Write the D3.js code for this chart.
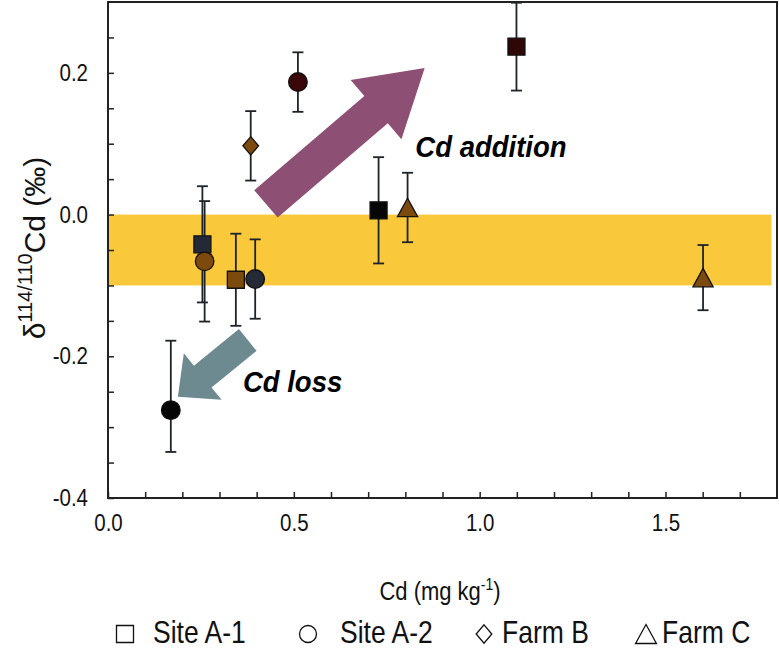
<!DOCTYPE html>
<html><head><meta charset="utf-8">
<script src="https://cdn.jsdelivr.net/npm/d3@7"></script>
<style>body{margin:0;background:#fff}svg{display:block}</style>
</head><body><svg id="c" width="779" height="664"></svg>
<script>
// ---------- data ----------
const seriesNames = ["Site A-1", "Site A-2", "Farm B", "Farm C"];

// Site A-1 (squares)
const siteA1X = [0.254, 0.344, 0.728, 1.099];
const siteA1Y = [-0.042, -0.092, 0.006, 0.237];
const siteA1ErrLo = [0.082, 0.065, 0.075, 0.062];
const siteA1ErrHi = [0.082, 0.065, 0.075, 0.062];
const siteA1Fill = ["#232a36", "#7b4a0c", "#060606", "#2e0707"];

// Site A-2 (circles)
const siteA2X = [0.169, 0.260, 0.396, 0.511];
const siteA2Y = [-0.276, -0.066, -0.091, 0.187];
const siteA2ErrLo = [0.059, 0.085, 0.056, 0.042];
const siteA2ErrHi = [0.098, 0.085, 0.056, 0.042];
const siteA2Fill = ["#050505", "#7b4a0c", "#252b36", "#3a0808"];

// Farm B (diamond)
const farmBX = [0.384];
const farmBY = [0.097];
const farmBErrLo = [0.049];
const farmBErrHi = [0.049];
const farmBFill = ["#7d4b0d"];

// Farm C (triangles)
const farmCX = [0.806, 1.601];
const farmCY = [0.010, -0.089];
const farmCErrLo = [0.049, 0.046];
const farmCErrHi = [0.049, 0.046];
const farmCFill = ["#7b4a0c", "#7b4a0c"];

// background band (natural range)
const bandX = [0, 1.785];
const bandY = [-0.1, 0.0];

// axis ticks
const xTickValues = [0,0.1,0.2,0.3,0.4,0.5,0.6,0.7,0.8,0.9,1.0,1.1,1.2,1.3,1.4,1.5,1.6,1.7];
const xTickLabels = [0, 0.5, 1.0, 1.5];
const yTickValues = [-0.4,-0.35,-0.3,-0.25,-0.2,-0.15,-0.1,-0.05,0,0.05,0.1,0.15,0.2,0.25];
const yTickLabels = [-0.4, -0.2, 0.0, 0.2];

// annotation arrows [x, y] in data units
const arrowTails = [[0.425, 0.015], [0.376, -0.177]];
const arrowTips  = [[0.852, 0.207], [0.188, -0.257]];
const arrowTexts = ["Cd addition", "Cd loss"];
const arrowTextPos = [[0.827, 0.081], [0.363, -0.25]];

// ---------- chart ----------
const svg = d3.select("#c");
const L = 108, R = 777, T = 2, B = 498;
const x = d3.scaleLinear().domain([0, 1.8]).range([L, R]);
const y = d3.scaleLinear().domain([-0.4, 0.3]).range([B, T]);
const FONT = "Arial, 'Liberation Sans', sans-serif";
const K = 1.15; // vertical stretch of the lettering in the original

// band
svg.append("rect")
  .attr("x", x(bandX[0])).attr("width", x(bandX[1]) - x(bandX[0]))
  .attr("y", y(bandY[1])).attr("height", y(bandY[0]) - y(bandY[1]))
  .attr("fill", "#f9c93b");

// axes
const fmt = d3.format(".1f");
const xAxis = d3.axisBottom(x).tickValues(xTickValues).tickSizeInner(-6).tickSizeOuter(0).tickPadding(14)
  .tickFormat(d => xTickLabels.some(v => Math.abs(v - d) < 1e-9) ? fmt(d) : "");
const yAxis = d3.axisLeft(y).tickValues(yTickValues).tickSizeInner(-6).tickSizeOuter(0).tickPadding(20)
  .tickFormat(d => yTickLabels.some(v => Math.abs(v - d) < 1e-9) ? fmt(d).replace("−", "-") : "");

const gx = svg.append("g").attr("transform", `translate(0,${B})`).call(xAxis);
const gy = svg.append("g").attr("transform", `translate(${L},0)`).call(yAxis);
[gx, gy].forEach(g => {
  g.select(".domain").remove();
  g.selectAll(".tick line").attr("stroke", "#222").attr("stroke-width", 1.5);
  g.selectAll(".tick text").attr("font-family", FONT).attr("font-size", 20.5).attr("fill", "#111")
    .attr("transform", `scale(1,${K})`);
});

// frame
svg.append("rect").attr("x", L).attr("y", T).attr("width", R - L).attr("height", B - T)
  .attr("fill", "none").attr("stroke", "#222").attr("stroke-width", 2);

// arrows
function arrowPath(tail, tip, shaftW, headW, headL) {
  const x0 = x(tail[0]), y0 = y(tail[1]), x1 = x(tip[0]), y1 = y(tip[1]);
  const dx = x1 - x0, dy = y1 - y0, len = Math.hypot(dx, dy);
  const ux = dx / len, uy = dy / len, nx = -uy, ny = ux;
  const bx = x1 - ux * headL, by = y1 - uy * headL;
  const pts = [
    [x0 + nx * shaftW / 2, y0 + ny * shaftW / 2],
    [bx + nx * shaftW / 2, by + ny * shaftW / 2],
    [bx + nx * headW / 2, by + ny * headW / 2],
    [x1, y1],
    [bx - nx * headW / 2, by - ny * headW / 2],
    [bx - nx * shaftW / 2, by - ny * shaftW / 2],
    [x0 - nx * shaftW / 2, y0 - ny * shaftW / 2]
  ];
  return "M" + pts.map(p => p.join(",")).join("L") + "Z";
}
const arrowStyle = [
  {fill: "#8d4f74", shaftW: 36, headW: 78, headL: 64},
  {fill: "#6c8a8f", shaftW: 28, headW: 60, headL: 32}
];
arrowTails.forEach((t, i) => {
  svg.append("path").attr("d", arrowPath(t, arrowTips[i], arrowStyle[i].shaftW, arrowStyle[i].headW, arrowStyle[i].headL))
    .attr("fill", arrowStyle[i].fill);
  svg.append("text").attr("transform", `translate(${x(arrowTextPos[i][0])},${y(arrowTextPos[i][1])}) scale(1,1.05)`)
    .attr("font-family", FONT).attr("font-size", 27.5).attr("font-weight", "bold").attr("font-style", "italic")
    .attr("fill", "#000").text(arrowTexts[i]);
});

// markers
function shapePath(type, s) {
  if (type === "square") return `M${-s},${-s}H${s}V${s}H${-s}Z`;
  if (type === "circle") return `M${-s},0A${s},${s} 0 1,0 ${s},0A${s},${s} 0 1,0 ${-s},0Z`;
  if (type === "diamond") return `M0,${-s * 1.08}L${s * 0.92},0L0,${s * 1.08}L${-s * 0.92},0Z`;
  if (type === "triangle") return `M0,${-s}L${s * 1.1},${s}L${-s * 1.1},${s}Z`;
}
const series = [
  {type: "square", xs: siteA1X, ys: siteA1Y, lo: siteA1ErrLo, hi: siteA1ErrHi, fill: siteA1Fill, s: 8.5},
  {type: "circle", xs: siteA2X, ys: siteA2Y, lo: siteA2ErrLo, hi: siteA2ErrHi, fill: siteA2Fill, s: 9.3},
  {type: "diamond", xs: farmBX, ys: farmBY, lo: farmBErrLo, hi: farmBErrHi, fill: farmBFill, s: 8.5},
  {type: "triangle", xs: farmCX, ys: farmCY, lo: farmCErrLo, hi: farmCErrHi, fill: farmCFill, s: 9.2}
];
const eb = svg.append("g").attr("stroke", "#1c2329").attr("stroke-width", 1.8).attr("fill", "none");
series.forEach(sr => sr.xs.forEach((xv, i) => {
  const cx = x(xv), yTop = Math.max(T, y(sr.ys[i] + sr.hi[i])), yBot = y(sr.ys[i] - sr.lo[i]);
  eb.append("line").attr("x1", cx).attr("x2", cx).attr("y1", yTop).attr("y2", yBot);
  eb.append("line").attr("x1", cx - 5.5).attr("x2", cx + 5.5).attr("y1", yBot).attr("y2", yBot);
  if (y(sr.ys[i] + sr.hi[i]) > T) eb.append("line").attr("x1", cx - 5.5).attr("x2", cx + 5.5).attr("y1", yTop).attr("y2", yTop);
}));
series.forEach(sr => sr.xs.forEach((xv, i) => {
  svg.append("path").attr("d", shapePath(sr.type, sr.s))
    .attr("transform", `translate(${x(xv)},${y(sr.ys[i])})`)
    .attr("fill", sr.fill[i]).attr("stroke", "#111").attr("stroke-width", 1.3);
}));

// axis titles
const xt = svg.append("text").attr("transform", `translate(440,600) scale(1,${K})`).attr("text-anchor", "middle")
  .attr("font-family", FONT).attr("font-size", 22).attr("fill", "#111");
xt.append("tspan").text("Cd (mg kg");
xt.append("tspan").attr("font-size", 14).attr("dy", -9).text("-1");
xt.append("tspan").attr("dy", 9).text(")");

const yt = svg.append("text").attr("transform", `translate(45,248) rotate(-90)`).attr("text-anchor", "middle")
  .attr("font-family", FONT).attr("font-size", 30).attr("fill", "#111");
yt.append("tspan").text("δ");
yt.append("tspan").attr("font-size", 20).attr("dy", -13).text("114/110");
yt.append("tspan").attr("dy", 13).text("Cd (‰)");

// legend
const legX = [125, 308, 484, 646];
const legTextX = [153, 340, 502, 662];
const legY = 634;
const legTypes = ["square", "circle", "diamond", "triangle"];
const legSize = [8.5, 8.5, 8.5, 9.5];
seriesNames.forEach((n, i) => {
  svg.append("path").attr("d", shapePath(legTypes[i], legSize[i]))
    .attr("transform", `translate(${legX[i]},${legY})`)
    .attr("fill", "none").attr("stroke", "#111").attr("stroke-width", 1.3);
  svg.append("text").attr("transform", `translate(${legTextX[i]},${legY + 9}) scale(1,${K})`)
    .attr("font-family", FONT).attr("font-size", 26.5).attr("fill", "#111").text(n);
});
</script></body></html>
